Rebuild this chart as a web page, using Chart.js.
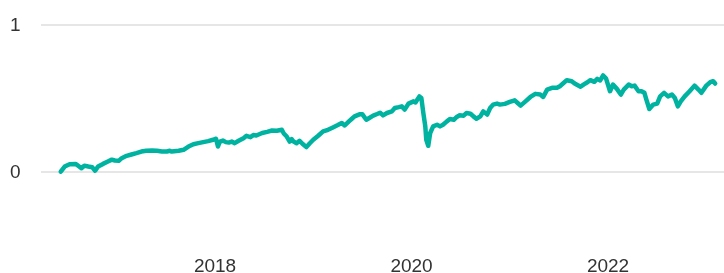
<!DOCTYPE html>
<html>
<head>
<meta charset="utf-8">
<script src="https://cdn.jsdelivr.net/npm/chart.js@4/dist/chart.umd.min.js"></script>
<style>
  html,body{ margin:0; padding:0; background:#fff; }
  #wrap{ width:724px; height:273px; position:relative; }
</style>
</head>
<body>
<div id="wrap"><canvas id="perfChart"></canvas></div>
<script>
// decimal years (x) and cumulative return (y)
const years = [
  2016.43,2016.47,2016.52,2016.58,2016.61,2016.64,2016.67,2016.71,2016.75,2016.78,
  2016.81,2016.86,2016.91,2016.95,2016.98,2017.02,2017.05,2017.10,2017.15,2017.20,
  2017.25,2017.30,2017.36,2017.41,2017.46,2017.51,2017.54,2017.56,2017.63,2017.68,
  2017.73,2017.78,2017.83,2017.88,2017.93,2017.98,2018.01,2018.03,2018.05,2018.08,
  2018.11,2018.14,2018.17,2018.20,2018.24,2018.29,2018.32,2018.36,2018.39,2018.42,
  2018.48,2018.53,2018.58,2018.63,2018.68,2018.70,2018.73,2018.76,2018.78,2018.80,
  2018.83,2018.86,2018.89,2018.93,2018.96,2019.00,2019.05,2019.10,2019.15,2019.20,
  2019.25,2019.29,2019.32,2019.36,2019.39,2019.42,2019.47,2019.50,2019.54,2019.57,
  2019.61,2019.65,2019.68,2019.71,2019.75,2019.80,2019.83,2019.87,2019.90,2019.93,
  2019.97,2020.02,2020.04,2020.08,2020.10,2020.12,2020.14,2020.15,2020.17,2020.19,
  2020.22,2020.26,2020.29,2020.32,2020.36,2020.39,2020.43,2020.46,2020.49,2020.53,
  2020.56,2020.60,2020.63,2020.66,2020.70,2020.73,2020.77,2020.80,2020.83,2020.87,
  2020.90,2020.95,2021.00,2021.05,2021.08,2021.11,2021.16,2021.21,2021.26,2021.31,
  2021.34,2021.38,2021.43,2021.48,2021.51,2021.55,2021.58,2021.63,2021.66,2021.72,
  2021.75,2021.79,2021.82,2021.86,2021.89,2021.92,2021.95,2021.98,2022.02,2022.05,
  2022.09,2022.13,2022.16,2022.21,2022.24,2022.27,2022.31,2022.34,2022.37,2022.39,
  2022.42,2022.46,2022.50,2022.53,2022.57,2022.61,2022.65,2022.68,2022.71,2022.74,
  2022.78,2022.83,2022.88,2022.92,2022.95,2023.00,2023.04,2023.07,2023.09
];
const values = [
  0.005,0.040,0.056,0.058,0.044,0.029,0.046,0.040,0.035,0.012,
  0.040,0.058,0.074,0.087,0.081,0.079,0.097,0.113,0.122,0.131,
  0.142,0.147,0.149,0.147,0.142,0.142,0.147,0.142,0.147,0.154,
  0.176,0.192,0.199,0.206,0.213,0.222,0.229,0.176,0.210,0.217,
  0.206,0.203,0.210,0.199,0.215,0.233,0.249,0.240,0.254,0.251,
  0.268,0.276,0.285,0.283,0.290,0.265,0.244,0.210,0.227,0.210,
  0.199,0.215,0.195,0.172,0.195,0.222,0.249,0.279,0.290,0.306,
  0.322,0.336,0.319,0.345,0.363,0.381,0.395,0.395,0.358,0.370,
  0.386,0.397,0.406,0.388,0.404,0.415,0.438,0.444,0.449,0.427,
  0.468,0.483,0.476,0.517,0.506,0.404,0.313,0.222,0.181,0.268,
  0.313,0.324,0.313,0.324,0.347,0.363,0.358,0.377,0.388,0.386,
  0.404,0.399,0.381,0.365,0.381,0.415,0.393,0.438,0.461,0.468,
  0.461,0.466,0.479,0.490,0.472,0.454,0.483,0.513,0.534,0.529,
  0.513,0.563,0.575,0.575,0.586,0.609,0.627,0.620,0.604,0.582,
  0.597,0.613,0.627,0.616,0.636,0.625,0.659,0.638,0.552,0.597,
  0.568,0.529,0.563,0.597,0.586,0.590,0.552,0.552,0.541,0.495,
  0.431,0.461,0.468,0.517,0.541,0.517,0.529,0.506,0.449,0.483,
  0.517,0.552,0.590,0.563,0.541,0.590,0.613,0.620,0.604
];
const yTicks = [0, 1];
const xTicks = [2018, 2020, 2022];

(function(){
  const points = years.map((x, i) => ({ x, y: values[i] }));
  const tickFont = { family: "'Liberation Sans', Arial, sans-serif", size: 19 };

  const ctx = document.getElementById('perfChart').getContext('2d');
  new Chart(ctx, {
    type: 'line',
    data: {
      datasets: [{
        data: points,
        borderColor: '#00b3a0',
        borderWidth: 4.5,
        borderJoinStyle: 'round',
        borderCapStyle: 'round',
        pointRadius: 0,
        tension: 0,
        fill: false
      }]
    },
    options: {
      responsive: true,
      maintainAspectRatio: false,
      animation: false,
      layout: { padding: { top: 25.3, left: 10, right: 0, bottom: 0 } },
      plugins: { legend: { display: false }, tooltip: { enabled: false } },
      scales: {
        x: {
          type: 'linear',
          min: 2016.229,
          max: 2023.18,
          afterBuildTicks: axis => { axis.ticks = xTicks.map(v => ({ value: v })); },
          afterFit: axis => { axis.height = 27; },
          grid: { display: false },
          border: { display: false },
          ticks: { color: '#333', font: tickFont, padding: 1, maxRotation: 0, callback: v => String(v) }
        },
        y: {
          min: -0.5,
          max: 1,
          afterBuildTicks: axis => { axis.ticks = yTicks.map(v => ({ value: v })); },
          afterFit: axis => { axis.width = 31; },
          grid: { color: '#e6e6e6', lineWidth: 2, drawTicks: false },
          border: { display: false },
          ticks: { color: '#333', font: tickFont, crossAlign: 'far', padding: 0, callback: v => String(v) }
        }
      }
    }
  });
})();
</script>
</body>
</html>
